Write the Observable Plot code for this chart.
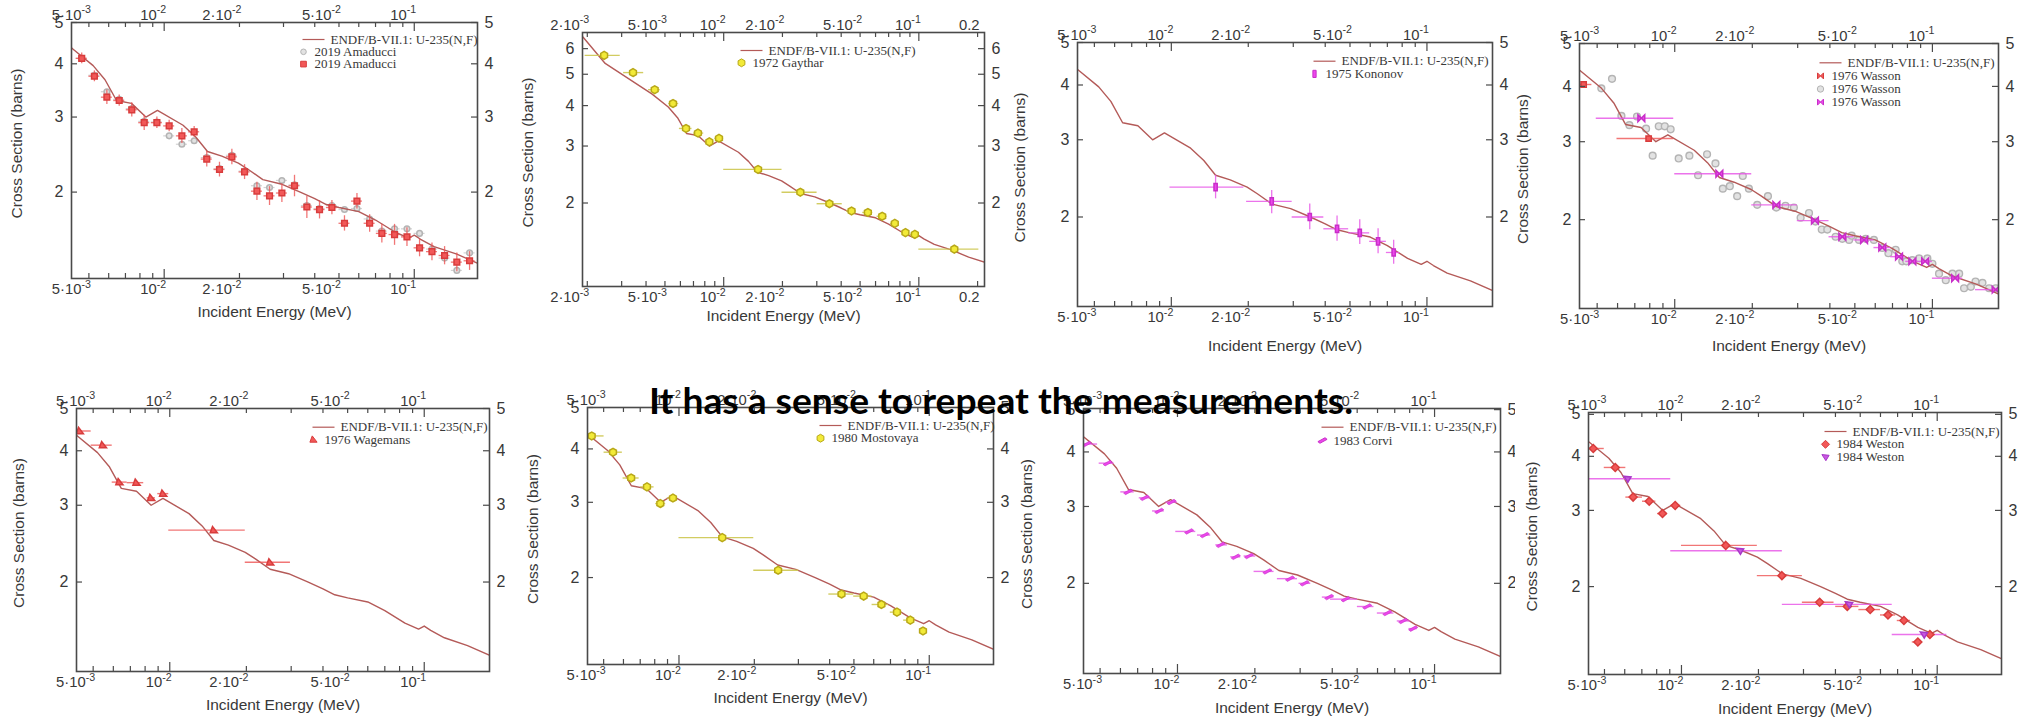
<!DOCTYPE html>
<html><head><meta charset="utf-8">
<script src="https://cdn.jsdelivr.net/npm/d3@7"></script>
<script src="https://cdn.jsdelivr.net/npm/@observablehq/plot@0.6"></script>
<style>
body{margin:0;background:#fff;}
#root{position:relative;width:2022px;height:720px;overflow:hidden;background:#fff;}
#overlay{position:absolute;left:0;top:0;pointer-events:none;}
</style></head>
<body><div id="root"></div>
<script>
// ---------- shared evaluated curve (ENDF/B-VII.1 U-235 (n,f)) ----------
const endfE = [0.0019,0.00247,0.0043,0.0052,0.0058,0.00645,0.0074,0.00845,0.0094,0.0119,0.0134,0.0149,0.0170,0.0198,0.0217,0.0248,0.0293,0.035,0.040,0.0445,0.050,0.060,0.070,0.084,0.095,0.100,0.106,0.120,0.148,0.180,0.220];
const endfS = [6.52,5.40,4.34,3.96,3.67,3.28,3.23,3.00,3.11,2.87,2.69,2.49,2.43,2.34,2.26,2.14,2.09,2.00,1.93,1.87,1.84,1.80,1.72,1.61,1.56,1.585,1.55,1.49,1.43,1.36,1.31];

// ---------- axis ticks ----------
const xTickVals = [0.002,0.005,0.01,0.02,0.05,0.1,0.2];
const xTickText = ["2·10^-3","5·10^-3","10^-2","2·10^-2","5·10^-2","10^-1","0.2"];
const xDecadeVals = [0.01,0.1];
const xMinorVals = [0.003,0.004,0.006,0.007,0.008,0.009,0.03,0.04,0.06,0.07,0.08,0.09];
const yTicks5 = [2,3,4,5];
const yTicks6 = [2,3,4,5,6];
const xTitle = "Incident Energy (MeV)";
const yTitle = "Cross Section (barns)";
const endfLabel = "ENDF/B-VII.1: U-235(N,F)";

// ---------- 2019 Amaducci ----------
const amaE = [4.68e-3,5.26e-3,5.90e-3,6.61e-3,7.42e-3,8.32e-3,9.35e-3,1.047e-2,1.177e-2,1.318e-2,1.48e-2,1.664e-2,1.865e-2,2.096e-2,2.349e-2,2.638e-2,2.956e-2,3.32e-2,3.72e-2,4.18e-2,4.685e-2,5.26e-2,5.90e-2,6.63e-2,7.42e-2,8.34e-2,9.35e-2,0.105,0.1177,0.1322,0.148,0.1664];
const amaRedS = [4.12,3.74,3.34,3.28,3.12,2.91,2.91,2.86,2.71,2.77,2.39,2.26,2.42,2.23,2.01,1.96,1.99,2.07,1.845,1.82,1.84,1.69,1.905,1.69,1.60,1.59,1.57,1.48,1.45,1.42,1.37,1.38];
const amaRedDs = [0.12,0.11,0.13,0.10,0.12,0.12,0.09,0.09,0.11,0.08,0.10,0.09,0.10,0.09,0.10,0.10,0.10,0.12,0.11,0.09,0.07,0.07,0.08,0.08,0.08,0.09,0.08,0.07,0.07,0.07,0.07,0.07];
const amaGrayS = [4.12,3.76,3.44,3.30,3.14,2.93,2.92,2.71,2.59,2.64,2.41,2.27,2.44,2.24,2.07,2.05,2.13,2.08,1.86,1.83,1.86,1.82,1.83,1.73,1.62,1.64,1.64,1.60,1.47,1.40,1.31,1.44];
const amaBinHalfDex = 0.022;

// ---------- 1972 Gaythar ----------
const gayE = [2.44e-3,3.43e-3,4.43e-3,5.50e-3,6.41e-3,7.38e-3,8.44e-3,9.46e-3,1.50e-2,2.47e-2,3.48e-2,4.52e-2,5.48e-2,6.49e-2,7.53e-2,8.54e-2,9.54e-2,0.152];
const gayS = [5.72,5.06,4.48,4.06,3.40,3.29,3.09,3.17,2.54,2.16,1.99,1.89,1.87,1.82,1.73,1.62,1.60,1.44];
const gayLo = [1.95e-3,3.07e-3,4.12e-3,5.22e-3,5.93e-3,7.02e-3,8.05e-3,8.99e-3,1.0e-2,1.99e-2,3.01e-2,4.26e-2,5.16e-2,6.11e-2,7.16e-2,8.15e-2,9.06e-2,0.100];
const gayHi = [2.95e-3,3.89e-3,4.73e-3,5.88e-3,6.88e-3,7.90e-3,8.89e-3,1.0e-2,1.99e-2,3.01e-2,4.05e-2,4.79e-2,5.81e-2,6.88e-2,7.90e-2,8.96e-2,1.0e-1,0.203];

// ---------- 1975 Kononov ----------
const konE = [1.49e-2,2.47e-2,3.48e-2,4.45e-2,5.46e-2,6.44e-2,7.41e-2];
const konS = [2.34,2.17,2.00,1.88,1.84,1.76,1.66];
const konLo = [9.88e-3,1.97e-2,2.97e-2,3.95e-2,4.94e-2,5.97e-2,6.94e-2];
const konHi = [1.922e-2,2.97e-2,3.95e-2,4.94e-2,5.97e-2,6.94e-2,7.82e-2];
const konSLo = [2.20,2.035,1.87,1.76,1.73,1.65,1.56];
const konSHi = [2.49,2.30,2.14,2.01,1.97,1.88,1.77];

// ---------- 1976 Wasson ----------
const wasRedE = [4.43e-3,7.92e-3];
const wasRedS = [4.04,3.05];
const wasRedLo = [4.30e-3,5.97e-3];
const wasRedHi = [4.77e-3,9.91e-3];
const wasMagE = [7.42e-3,1.49e-2,2.48e-2,3.50e-2,4.47e-2,5.43e-2,6.39e-2,7.42e-2,8.36e-2,9.37e-2,0.1225,0.176];
const wasMagS = [3.39,2.54,2.16,1.99,1.83,1.80,1.73,1.65,1.61,1.61,1.475,1.39];
const wasMagLo = [4.96e-3,1.0e-2,1.99e-2,2.99e-2,3.97e-2,4.96e-2,5.93e-2,6.89e-2,7.88e-2,8.88e-2,0.100,0.147];
const wasMagHi = [9.91e-3,1.99e-2,2.99e-2,3.97e-2,4.96e-2,5.93e-2,6.89e-2,7.88e-2,8.88e-2,0.100,0.131,0.180];
const wasGrayE = [5.19e-3,5.71e-3,6.21e-3,6.67e-3,7.14e-3,7.74e-3,8.21e-3,8.67e-3,9.15e-3,9.64e-3,1.036e-2,1.14e-2,1.232e-2,1.335e-2,1.439e-2,1.537e-2,1.636e-2,1.747e-2,1.837e-2,1.94e-2,2.09e-2,2.30e-2,2.48e-2,2.69e-2,2.90e-2,3.08e-2,3.32e-2,3.52e-2,3.72e-2,3.91e-2,4.21e-2,4.47e-2,4.75e-2,4.86e-2,5.19e-2,5.51e-2,5.93e-2,6.39e-2,6.75e-2,7.20e-2,7.64e-2,7.92e-2,8.36e-2,8.88e-2,9.56e-2,0.100,0.1061,0.1127,0.1196,0.127,0.1327,0.141,0.147,0.1564,0.166,0.176];
const wasGrayS = [3.96,4.16,3.43,3.27,3.42,3.21,2.79,3.25,3.25,3.20,2.75,2.79,2.52,2.81,2.68,2.35,2.38,2.26,2.51,2.35,2.16,2.26,2.13,2.15,2.13,2.02,2.07,1.98,1.90,1.90,1.83,1.81,1.80,1.84,1.80,1.81,1.80,1.726,1.68,1.71,1.61,1.61,1.62,1.635,1.635,1.59,1.51,1.46,1.51,1.51,1.40,1.41,1.45,1.44,1.40,1.40];

// ---------- 1976 Wagemans ----------
const wagE = [4.43e-3,5.46e-3,6.34e-3,7.40e-3,8.45e-3,9.42e-3,1.489e-2,2.48e-2];
const wagS = [4.44,4.12,3.39,3.38,3.12,3.19,2.63,2.22];
const wagLo = [4.30e-3,4.91e-3,5.94e-3,6.80e-3,8.15e-3,8.97e-3,9.91e-3,1.98e-2];
const wagHi = [4.91e-3,5.94e-3,6.80e-3,7.90e-3,8.78e-3,9.91e-3,1.98e-2,2.98e-2];

// ---------- 1980 Mostovaya ----------
const mosE = [4.48e-3,5.45e-3,6.44e-3,7.45e-3,8.42e-3,9.46e-3,1.489e-2,2.49e-2,4.46e-2,5.47e-2,6.44e-2,7.43e-2,8.40e-2,9.44e-2];
const mosS = [4.29,3.93,3.42,3.26,2.98,3.07,2.48,2.08,1.83,1.81,1.73,1.66,1.59,1.50];
const mosLo = [4.31e-3,5.02e-3,5.98e-3,7.03e-3,8.07e-3,8.98e-3,1.0e-2,1.99e-2,3.97e-2,4.99e-2,5.91e-2,6.99e-2,7.90e-2,9.2e-2];
const mosHi = [5.02e-3,5.94e-3,6.93e-3,7.95e-3,8.85e-3,9.85e-3,1.99e-2,3.01e-2,4.99e-2,5.91e-2,6.88e-2,7.78e-2,8.79e-2,9.7e-2];

// ---------- 1983 Corvi ----------
const corE = [4.44e-3,5.35e-3,6.43e-3,7.46e-3,8.49e-3,9.48e-3,1.110e-2,1.277e-2,1.474e-2,1.686e-2,1.899e-2,2.237e-2,2.74e-2,3.125e-2,3.89e-2,4.51e-2,5.47e-2,6.55e-2,7.55e-2,8.26e-2];
const corS = [4.17,3.77,3.24,3.14,2.93,3.07,2.63,2.58,2.45,2.30,2.31,2.13,2.05,2.00,1.86,1.84,1.77,1.71,1.64,1.575];
const corLo = [4.31e-3,4.96e-3,6.02e-3,7.10e-3,8.00e-3,9.01e-3,9.85e-3,1.196e-2,1.41e-2,1.612e-2,1.816e-2,1.986e-2,2.447e-2,2.97e-2,3.66e-2,3.94e-2,5.01e-2,5.99e-2,7.16e-2,7.95e-2];
const corHi = [4.89e-3,5.67e-3,6.79e-3,7.88e-3,8.88e-3,1.0e-2,1.178e-2,1.347e-2,1.564e-2,1.763e-2,2.016e-2,2.375e-2,2.93e-2,3.30e-2,4.06e-2,5.01e-2,5.81e-2,6.95e-2,8.07e-2,8.56e-2];

// ---------- 1984 Weston ----------
const wesE = [4.52e-3,5.51e-3,6.47e-3,7.48e-3,8.43e-3,9.45e-3,1.49e-2,2.47e-2,3.47e-2,4.45e-2,5.47e-2,6.42e-2,7.41e-2,8.40e-2,9.36e-2];
const wesS = [4.17,3.77,3.22,3.15,2.95,3.08,2.49,2.12,1.84,1.80,1.77,1.72,1.67,1.49,1.55];
const wesLo = [4.36e-3,4.99e-3,6.06e-3,7.04e-3,8.06e-3,9.08e-3,1.0e-2,1.98e-2,2.97e-2,4.01e-2,4.94e-2,6.0e-2,6.98e-2,7.99e-2,8.87e-2];
const wesHi = [4.99e-3,6.06e-3,7.04e-3,7.94e-3,8.82e-3,9.94e-3,1.98e-2,2.97e-2,3.95e-2,4.94e-2,6.0e-2,6.88e-2,7.87e-2,8.74e-2,9.85e-2];
const wesME = [6.15e-3,1.695e-2,4.52e-2,8.87e-2];
const wesMS = [3.55,2.42,1.82,1.55];
const wesMLo = [4.33e-3,9.08e-3,2.48e-2,6.67e-2];
const wesMHi = [9.08e-3,2.48e-2,6.67e-2,0.109];

// ---------- helpers ----------
const rows = (cols) => cols.e.map((_, i) => Object.fromEntries(Object.entries(cols).map(([k, a]) => [k, a[i]])));
const endf = rows({e: endfE, s: endfS});
const sym = (fn) => ({draw(c, size) { const s = Math.sqrt(size / Math.PI); fn(c, s); }});
const poly = (pts) => sym((c, s) => { pts.forEach(([x, y], i) => i ? c.lineTo(x * s, y * s) : c.moveTo(x * s, y * s)); c.closePath(); });
const hline = sym((c, s) => { c.moveTo(-s, 0); c.lineTo(s, 0); });
const rectV = poly([[-0.45,-1],[0.45,-1],[0.45,1],[-0.45,1]]);
const slash = poly([[-1,0.25],[0.55,-0.6],[1,-0.25],[-0.55,0.6]]);
const bowtie = poly([[-1,-1],[1,1],[1,-1],[-1,1]]);
const triDown = poly([[-1,-0.7],[1,-0.5],[0.1,1]]);
const triSlant = poly([[-1,0.75],[1,0.75],[-0.35,-1]]);

const C = {
  endf: "#b45a58", text: "#383838", axis: "#4a4a4a",
  red: "#f25858", redStroke: "#d83c3c", redBar: "rgba(238,84,84,0.8)",
  grayFill: "#e2e2e2", grayStroke: "#b4b4b4", grayBar: "rgba(180,180,180,0.6)",
  yel: "#f2ea38", yelStroke: "#b8a818", yelBar: "rgba(205,198,80,0.9)",
  mag: "#ec46ec", magStroke: "#c82ec8", magBar: "rgba(232,90,232,0.85)"
};
const sans = "Liberation Sans, Arial, sans-serif";
const serif = "Liberation Serif, Times New Roman, serif";

function hbars(data, color, w = 1.3) {
  return Plot.ruleY(data, {y: "s", x1: "lo", x2: "hi", stroke: color, strokeWidth: w, clip: true});
}

function legendMarks(lg) {
  const T = lg.t;
  const out = [
    Plot.dot([0], {x: null, y: null, frameAnchor: "top-right", dx: -(T + 17), dy: lg.y0, symbol: hline, r: 11, stroke: C.endf, strokeWidth: 1.2, fill: "none"}),
    Plot.text([endfLabel], {text: d => d, frameAnchor: "top-right", dx: -T, dy: lg.y0, textAnchor: "start", lineAnchor: "middle", fontFamily: serif, fontSize: 13, fill: C.text})
  ];
  lg.items.forEach((it, i) => {
    const dy = lg.y0 + (i + 1) * lg.gap;
    out.push(Plot.dot([0], {x: null, y: null, frameAnchor: "top-right", dx: -(T + 27), dy, symbol: it.symbol, r: it.r, fill: it.fill, stroke: it.stroke, strokeWidth: 1}));
    out.push(Plot.text([it.label], {text: d => d, frameAnchor: "top-right", dx: -(T + 16), dy, textAnchor: "start", lineAnchor: "middle", fontFamily: serif, fontSize: 13, fill: C.text}));
  });
  return out;
}

function superscripts(svg) {
  const ns = "http://www.w3.org/2000/svg";
  svg.querySelectorAll("text").forEach(t => {
    const s = t.textContent;
    if (!s.includes("^")) return;
    const [base, exp] = s.split("^");
    t.textContent = "";
    const a = document.createElementNS(ns, "tspan"); a.textContent = base;
    const b = document.createElementNS(ns, "tspan"); b.textContent = exp;
    b.setAttribute("dy", "-0.6em"); b.setAttribute("font-size", "0.72em");
    t.append(a, b);
  });
}

const root = document.getElementById("root");

function makePanel(p) {
  const [cx, cy, cw, ch] = p.cell;
  const [fl, ft, fr, fb] = p.frame;
  const pw = fr - fl, ph = fb - ft;
  const inX = v => v >= p.xDomain[0] && v <= p.xDomain[1];
  const majors = xTickVals.map((v, i) => ({v, t: xTickText[i]})).filter(d => inX(d.v));
  const longT = majors.map(d => d.v).filter(v => xDecadeVals.includes(v));
  const shortT = majors.map(d => d.v).filter(v => !xDecadeVals.includes(v)).concat(xMinorVals.filter(inX));
  const tk = {stroke: C.axis, strokeWidth: 1.2};
  const marks = [
    ...(p.under || []),
    Plot.line(endf, {x: "e", y: "s", stroke: C.endf, strokeWidth: 1.4, clip: true}),
    ...(p.over || []),
    Plot.frame({stroke: C.axis, strokeWidth: 1.6}),
    Plot.tickX(longT, {x: d => d, insetBottom: ph - 9, ...tk}),
    Plot.tickX(longT, {x: d => d, insetTop: ph - 9, ...tk}),
    Plot.tickX(shortT, {x: d => d, insetBottom: ph - 5, ...tk}),
    Plot.tickX(shortT, {x: d => d, insetTop: ph - 5, ...tk}),
    Plot.tickY(p.yTicks, {y: d => d, insetRight: pw - 6, ...tk}),
    Plot.tickY(p.yTicks, {y: d => d, insetLeft: pw - 6, ...tk}),
    Plot.text(majors, {x: "v", text: "t", frameAnchor: "top", lineAnchor: "bottom", textAnchor: "end", dx: 2, dy: -3, fontSize: 14.8, fill: C.text}),
    Plot.text(majors, {x: "v", text: "t", frameAnchor: "bottom", lineAnchor: "top", textAnchor: "end", dx: 2, dy: 5, fontSize: 14.8, fill: C.text}),
    Plot.text(p.yTicks, {y: d => d, text: d => String(d), frameAnchor: "left", textAnchor: "end", lineAnchor: "middle", dx: -8, fontSize: 16, fill: C.text}),
    Plot.text(p.yTicks, {y: d => d, text: d => String(d), frameAnchor: "right", textAnchor: "start", lineAnchor: "middle", dx: 7, fontSize: 16, fill: C.text}),
    Plot.text([yTitle], {text: d => d, frameAnchor: "left", rotate: -90, textAnchor: "middle", lineAnchor: "middle", dx: p.yLabelX - fl, dy: -7, fontSize: 15.5, fill: C.text}),
    Plot.text([xTitle], {text: d => d, frameAnchor: "bottom", textAnchor: "middle", lineAnchor: "middle", dy: p.xLabelY - fb, fontSize: 15.5, fill: C.text}),
    ...legendMarks(p.legend)
  ];
  const svg = Plot.plot({
    width: cw, height: ch,
    marginLeft: fl - cx, marginRight: cx + cw - fr, marginTop: ft - cy, marginBottom: cy + ch - fb,
    x: {type: "log", domain: p.xDomain, axis: null},
    y: {type: "log", domain: p.yDomain, axis: null},
    style: {fontFamily: sans, color: C.text, background: "transparent"},
    marks
  });
  superscripts(svg);
  svg.style.position = "absolute";
  svg.style.left = cx + "px";
  svg.style.top = cy + "px";
  root.append(svg);
}

// ---------- build rows ----------
const amaRed = rows({e: amaE, s: amaRedS, ds: amaRedDs});
const amaGray = rows({e: amaE, s: amaGrayS});
const amaX = d => ({...d, lo: d.e * Math.pow(10, -amaBinHalfDex), hi: d.e * Math.pow(10, amaBinHalfDex)});
const gay = rows({e: gayE, s: gayS, lo: gayLo, hi: gayHi});
const kon = rows({e: konE, s: konS, lo: konLo, hi: konHi, slo: konSLo, shi: konSHi});
const wasRed = rows({e: wasRedE, s: wasRedS, lo: wasRedLo, hi: wasRedHi});
const wasMag = rows({e: wasMagE, s: wasMagS, lo: wasMagLo, hi: wasMagHi});
const wasGray = rows({e: wasGrayE, s: wasGrayS});
const wag = rows({e: wagE, s: wagS, lo: wagLo, hi: wagHi});
const mos = rows({e: mosE, s: mosS, lo: mosLo, hi: mosHi});
const cor = rows({e: corE, s: corS, lo: corLo, hi: corHi});
const wes = rows({e: wesE, s: wesS, lo: wesLo, hi: wesHi});
const wesM = rows({e: wesME, s: wesMS, lo: wesMLo, hi: wesMHi});

const grayDot = {symbol: "circle", r: 2.8, fill: C.grayFill, stroke: C.grayStroke};
const redSq = {symbol: "square", r: 3.2, fill: C.red, stroke: C.redStroke};
const yelHex = {symbol: "hexagon", r: 3.4, fill: C.yel, stroke: C.yelStroke};

const panels = [
  { cell: [0, 0, 505, 360], frame: [71, 22, 477, 278], xDomain: [0.00426, 0.179], yDomain: [1.254, 5], yTicks: yTicks5, xLabelY: 312, yLabelX: 17,
    under: [
      Plot.ruleY(amaGray.map(amaX), {y: "s", x1: "lo", x2: "hi", stroke: C.grayBar, strokeWidth: 1.2, clip: true}),
      Plot.dot(amaGray, {x: "e", y: "s", ...grayDot, clip: true})
    ],
    over: [
      Plot.ruleY(amaRed.map(amaX), {y: "s", x1: "lo", x2: "hi", stroke: C.redBar, strokeWidth: 1.3, clip: true}),
      Plot.ruleX(amaRed, {x: "e", y1: d => d.s - d.ds, y2: d => d.s + d.ds, stroke: C.redBar, strokeWidth: 1.3, clip: true}),
      Plot.dot(amaRed, {x: "e", y: "s", ...redSq, clip: true})
    ],
    legend: {t: 147, y0: 17, gap: 12.3, items: [{...grayDot, label: "2019 Amaducci"}, {...redSq, label: "2019 Amaducci"}]} },
  { cell: [505, 0, 505, 360], frame: [582, 32, 984, 286], xDomain: [0.00189, 0.217], yDomain: [1.104, 6.73], yTicks: yTicks6, xLabelY: 316, yLabelX: 528,
    over: [hbars(gay, C.yelBar, 1.4), Plot.dot(gay, {x: "e", y: "s", ...yelHex, clip: true})],
    legend: {t: 216, y0: 18, gap: 12.3, items: [{...yelHex, label: "1972 Gaythar"}]} },
  { cell: [1010, 0, 505, 360], frame: [1077, 42, 1492, 306], xDomain: [0.004295, 0.1805], yDomain: [1.25, 5], yTicks: yTicks5, xLabelY: 346, yLabelX: 1020,
    over: [
      hbars(kon, C.magBar, 1.3),
      Plot.ruleX(kon, {x: "e", y1: "slo", y2: "shi", stroke: C.magBar, strokeWidth: 1.3, clip: true}),
      Plot.dot(kon, {x: "e", y: "s", symbol: rectV, r: 3.6, fill: C.mag, stroke: C.magStroke, clip: true})
    ],
    legend: {t: 151, y0: 18.7, gap: 12.7, items: [{symbol: rectV, r: 3.6, fill: C.mag, stroke: C.magStroke, label: "1975 Kononov"}]} },
  { cell: [1515, 0, 507, 360], frame: [1579, 43, 1998, 308], xDomain: [0.00427, 0.1805], yDomain: [1.26, 5], yTicks: yTicks5, xLabelY: 346, yLabelX: 1523,
    under: [Plot.dot(wasGray, {x: "e", y: "s", symbol: "circle", r: 3.4, fill: C.grayFill, stroke: C.grayStroke, strokeWidth: 1.4, clip: true})],
    over: [
      hbars(wasRed, C.redBar, 1.4),
      Plot.dot(wasRed, {x: "e", y: "s", symbol: "square", r: 3, fill: C.red, stroke: C.redStroke, clip: true}),
      hbars(wasMag, C.magBar, 1.4),
      Plot.dot(wasMag, {x: "e", y: "s", symbol: bowtie, r: 3.4, fill: C.mag, stroke: C.magStroke, clip: true})
    ],
    legend: {t: 151, y0: 19.3, gap: 13.1, items: [
      {symbol: bowtie, r: 3, fill: C.red, stroke: C.redStroke, label: "1976 Wasson"},
      {symbol: "circle", r: 3.2, fill: C.grayFill, stroke: C.grayStroke, label: "1976 Wasson"},
      {symbol: bowtie, r: 3, fill: C.mag, stroke: C.magStroke, label: "1976 Wasson"}]} },
  { cell: [0, 360, 505, 360], frame: [76, 408, 489, 671], xDomain: [0.0043, 0.1805], yDomain: [1.247, 5], yTicks: yTicks5, xLabelY: 705, yLabelX: 19,
    over: [hbars(wag, C.redBar, 1.4), Plot.dot(wag, {x: "e", y: "s", symbol: triSlant, r: 3.6, fill: C.red, stroke: C.redStroke, clip: true})],
    legend: {t: 149, y0: 18.7, gap: 12.3, items: [{symbol: triSlant, r: 3.6, fill: C.red, stroke: C.redStroke, label: "1976 Wagemans"}]} },
  { cell: [505, 360, 505, 360], frame: [587, 407, 993, 664], xDomain: [0.00431, 0.1806], yDomain: [1.252, 5], yTicks: yTicks5, xLabelY: 698, yLabelX: 533,
    over: [hbars(mos, C.yelBar, 1.4), Plot.dot(mos, {x: "e", y: "s", ...yelHex, clip: true})],
    legend: {t: 146, y0: 18, gap: 12.7, items: [{...yelHex, label: "1980 Mostovaya"}]} },
  { cell: [1010, 360, 505, 360], frame: [1083, 408, 1500, 673], xDomain: [0.00431, 0.1805], yDomain: [1.243, 5.03], yTicks: yTicks5, xLabelY: 708, yLabelX: 1027,
    over: [hbars(cor, C.magBar, 1.4), Plot.dot(cor, {x: "e", y: "s", symbol: slash, r: 4.6, fill: C.mag, stroke: C.magStroke, strokeWidth: 0.6, clip: true})],
    legend: {t: 151, y0: 18.7, gap: 13.3, items: [{symbol: slash, r: 4.6, fill: C.mag, stroke: C.magStroke, label: "1983 Corvi"}]} },
  { cell: [1515, 360, 507, 360], frame: [1588, 412, 2001, 674], xDomain: [0.00433, 0.1784], yDomain: [1.253, 5.05], yTicks: yTicks5, xLabelY: 709, yLabelX: 1532,
    over: [
      hbars(wesM, C.magBar, 1.4),
      hbars(wes, C.redBar, 1.4),
      Plot.dot(wes, {x: "e", y: "s", symbol: "diamond2", r: 3.6, fill: C.red, stroke: C.redStroke, clip: true}),
      Plot.dot(wesM, {x: "e", y: "s", symbol: triDown, r: 3.6, fill: "#c858e0", stroke: "#a838c8", clip: true})
    ],
    legend: {t: 149, y0: 19, gap: 12.8, items: [
      {symbol: "diamond2", r: 3.6, fill: C.red, stroke: C.redStroke, label: "1984 Weston"},
      {symbol: triDown, r: 3.6, fill: "#c858e0", stroke: "#a838c8", label: "1984 Weston"}]} }
];

panels.forEach(makePanel);

// ---------- overlay statement ----------
const ns = "http://www.w3.org/2000/svg";
const ov = document.createElementNS(ns, "svg");
ov.setAttribute("id", "overlay");
ov.setAttribute("width", 2022); ov.setAttribute("height", 720);
const t = document.createElementNS(ns, "text");
t.setAttribute("x", 649); t.setAttribute("y", 414);
t.setAttribute("font-family", "Lato, 'Open Sans', sans-serif");
t.setAttribute("font-weight", "bold");
t.setAttribute("font-size", 37);
t.setAttribute("fill", "#000");
t.setAttribute("textLength", 704);
t.setAttribute("lengthAdjust", "spacingAndGlyphs");
t.textContent = "It has a sense to repeat the measurements.";
ov.append(t);
root.append(ov);
</script>
</body></html>
